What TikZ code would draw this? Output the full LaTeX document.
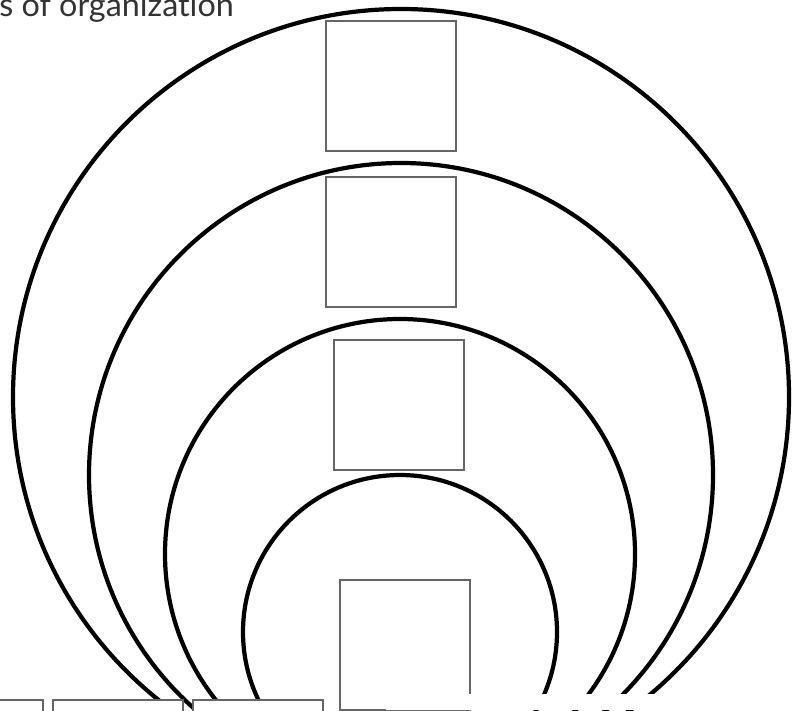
\documentclass[tikz,border=0pt]{standalone}
\usepackage{fontspec}
\setsansfont{Lato}[Ligatures={NoCommon}]
\colorlet{myring}{black}
\colorlet{mybox}{black!60}
\colorlet{mytitle}{black!80}
\tikzset{
  ring/.style={draw=myring,line width=3pt},
  levelbox/.style={draw=mybox,line width=1.1pt,fill=white,
    minimum width=3.25cm,minimum height=3.25cm,
    inner sep=0pt,outer sep=0pt,anchor=north west},
}

\begin{document}
\begin{tikzpicture}[x=0.025cm,y=-0.025cm]
  \useasboundingbox (0,0) rectangle (794,710);
  \clip (0,0) rectangle (794,710);
  % rings, outer to inner
  \draw[ring] (401,397) circle[radius=388];
  \draw[ring] (401,475) circle[radius=312];
  \draw[ring] (400,554) circle[radius=235];
  \draw[ring] (400,632) circle[radius=157];
  % one box for each level
  \node[levelbox] (level1) at (326,21) {};
  \node[levelbox] (level2) at (326,177) {};
  \node[levelbox] (level3) at (334,340) {};
  \node[levelbox] (level4) at (340,580) {};
  % bottom row
  \node[levelbox] (low1) at (-87,700) {};
  \node[levelbox] (low2) at (53,700) {};
  \node[levelbox] (low3) at (193,700) {};
  \fill[white] (386,694) rectangle (794,710);
  \node[anchor=base west,inner sep=0pt,text=mytitle,font=\sffamily\fontsize{23}{27}\selectfont]
    (title) at (-1,16) {s of organization};
\end{tikzpicture}
\end{document}
